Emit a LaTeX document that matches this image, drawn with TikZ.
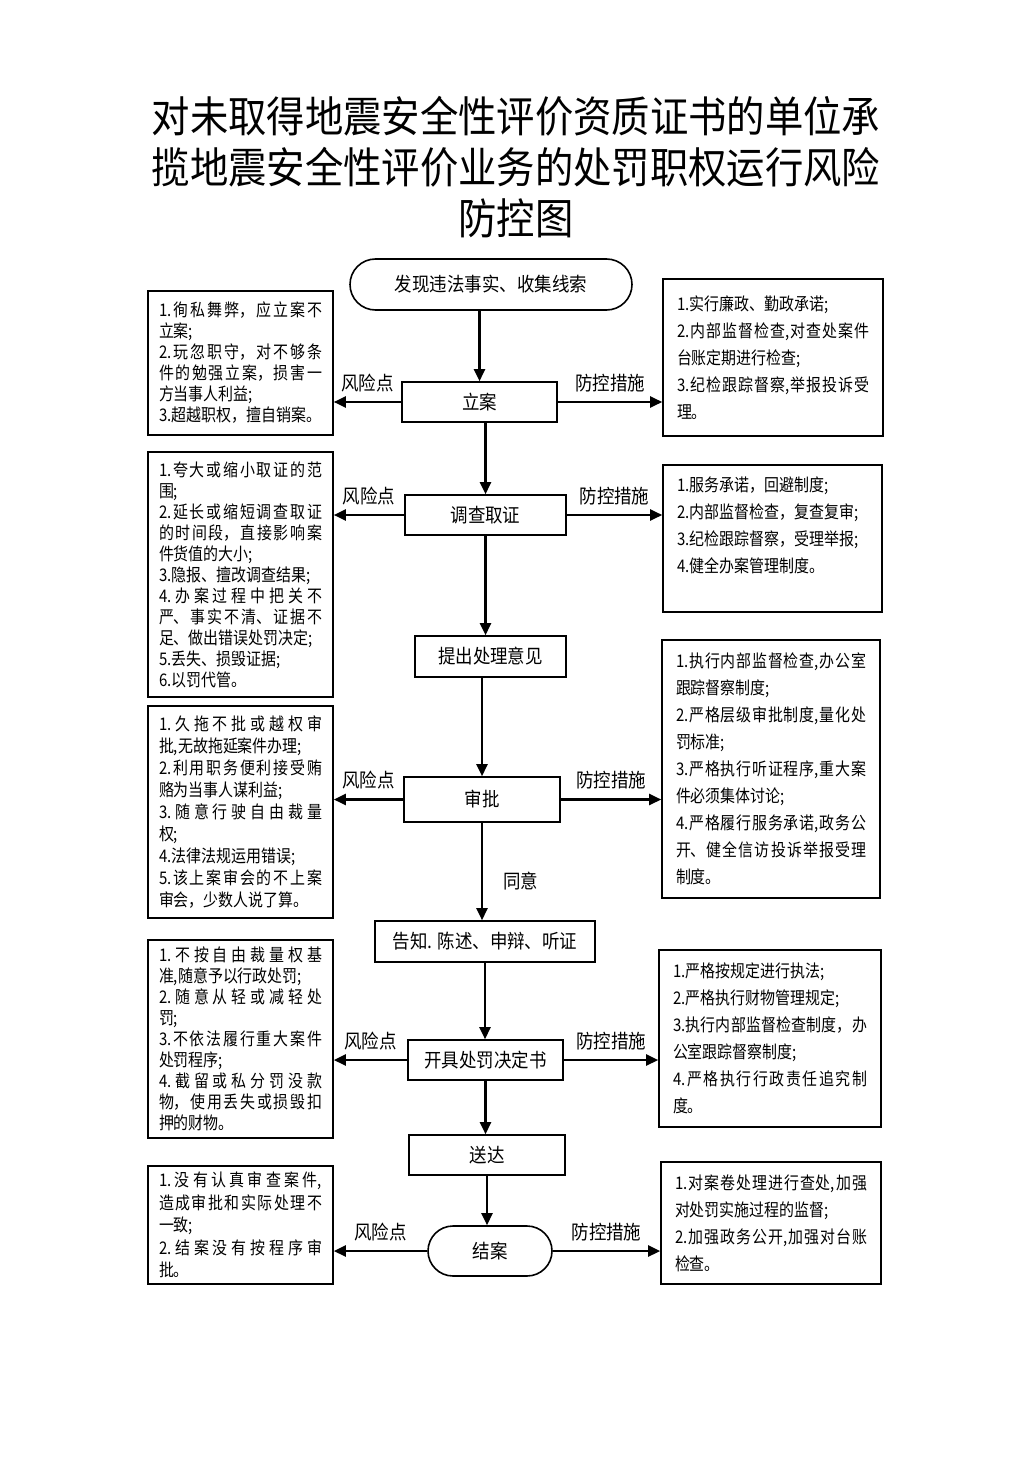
\documentclass[tikz,border=0pt]{standalone}
\usepackage{fontspec}
\newfontfamily\cjk[FakeStretch=0.9]{Noto Sans CJK SC}
\newfontfamily\cjkbox[FakeStretch=0.86]{Noto Sans CJK SC}
\XeTeXlinebreaklocale "zh"
\XeTeXlinebreakskip=0pt plus 4pt
\usetikzlibrary{arrows.meta}
\begin{document}
\begin{tikzpicture}[x=0.5pt,y=-0.5pt,
  flow/.style={draw, line width=0.8pt, font=\cjk\fontsize{9.7}{11}\selectfont, align=center, inner sep=0pt},
  lbox/.style={draw, line width=0.8pt, font=\cjkbox\fontsize{8.7}{10.5}\selectfont, align=justify, text width=81.5pt, inner xsep=5.5pt, inner ysep=0pt},
  rbox/.style={draw, line width=0.8pt, font=\cjkbox\fontsize{8.7}{13.5}\selectfont, align=justify, inner xsep=7pt, inner ysep=0pt},
  arr/.style={line width=1.2pt, -{Triangle[length=6pt,width=5.5pt]}},
  lbl/.style={font=\cjk\fontsize{9.7}{11}\selectfont, inner sep=0pt},
  ttl/.style={font=\cjk\fontsize{21.3}{25.5}\selectfont, align=center, inner sep=0pt}
]
\useasboundingbox (0,0) rectangle (1033,1460);

% title
\node[ttl] (title) at (516,167) {对未取得地震安全性评价资质证书的单位承\\揽地震安全性评价业务的处罚职权运行风险\\防控图};

% main flow
\node[flow, rounded corners=12.75pt, minimum width=141pt, minimum height=25.5pt] (start) at (491,284.5) {发现违法事实、收集线索};
\node[flow, minimum width=77.5pt, minimum height=20pt] (lian) at (479.5,402) {立案};
\node[flow, minimum width=80.5pt, minimum height=20pt] (dc) at (485.5,515) {调查取证};
\node[flow, minimum width=75.5pt, minimum height=20.5pt] (tc) at (490.5,656.5) {提出处理意见};
\node[flow, minimum width=78pt, minimum height=22.5pt] (sp) at (482,799.5) {审批};
\node[flow, minimum width=110pt, minimum height=20.5pt] (gz) at (485,941.5) {告知. 陈述、申辩、听证};
\node[flow, minimum width=77.5pt, minimum height=20pt] (kj) at (485.5,1060) {开具处罚决定书};
\node[flow, minimum width=78pt, minimum height=20pt] (sd) at (487,1155) {送达};
\node[flow, rounded corners=12.5pt, minimum width=62pt, minimum height=25pt] (ja) at (490,1251) {结案};

% left boxes (risk points)
\node[lbox, minimum height=72pt] (L1) at (240.5,363) {1.徇私舞弊，应立案不\linebreak 立案;\\2.玩忽职守，对不够条\linebreak 件的勉强立案，损害一\linebreak 方当事人利益;\\3.超越职权，擅自销案。};
\node[lbox, minimum height=122.5pt] (L2) at (240.5,574.5) {1.夸大或缩小取证的范\linebreak 围;\\2.延长或缩短调查取证\linebreak 的时间段，直接影响案\linebreak 件货值的大小;\\3.隐报、擅改调查结果;\\4.办案过程中把关不\linebreak 严、事实不清、证据不\linebreak 足、做出错误处罚决定;\\5.丢失、损毁证据;\\6.以罚代管。};
\node[lbox, minimum height=106pt, font=\cjkbox\fontsize{8.7}{11}\selectfont] (L3) at (240.5,812) {1.久拖不批或越权审\linebreak 批,无故拖延案件办理;\\2.利用职务便利接受贿\linebreak 赂为当事人谋利益;\\3.随意行驶自由裁量\linebreak 权;\\4.法律法规运用错误;\\5.该上案审会的不上案\linebreak 审会，少数人说了算。};
\node[lbox, minimum height=99pt] (L4) at (240.5,1039) {1.不按自由裁量权基\linebreak 准,随意予以行政处罚;\\2.随意从轻或减轻处\linebreak 罚;\\3.不依法履行重大案件\linebreak 处罚程序;\\4.截留或私分罚没款\linebreak 物，使用丢失或损毁扣\linebreak 押的财物。};
\node[lbox, minimum height=59pt, font=\cjkbox\fontsize{8.7}{11.2}\selectfont] (L5) at (240.5,1225) {1.没有认真审查案件,\linebreak 造成审批和实际处理不\linebreak 一致;\\2.结案没有按程序审\linebreak 批。};

% right boxes (control measures)
\node[rbox, text width=96pt, minimum height=78.5pt] (R1) at (773,357.5) {1.实行廉政、勤政承诺;\\2.内部监督检查,对查处案件\linebreak 台账定期进行检查;\\3.纪检跟踪督察,举报投诉受\linebreak 理。};
\node[rbox, text width=95.5pt, minimum height=73.5pt] (R2) at (772.5,538.5) {1.服务承诺，回避制度;\\2.内部监督检查，复查复审;\\3.纪检跟踪督察，受理举报;\\4.健全办案管理制度。\\\mbox{}};
\node[rbox, text width=95pt, minimum height=129pt] (R3) at (771,769) {1.执行内部监督检查,办公室\linebreak 跟踪督察制度;\\2.严格层级审批制度,量化处\linebreak 罚标准;\\3.严格执行听证程序,重大案\linebreak 件必须集体讨论;\\4.严格履行服务承诺,政务公\linebreak 开、健全信访投诉举报受理\linebreak 制度。};
\node[rbox, text width=97pt, minimum height=88.5pt] (R4) at (770,1038.5) {1.严格按规定进行执法;\\2.严格执行财物管理规定;\\3.执行内部监督检查制度，办\linebreak 公室跟踪督察制度;\\4.严格执行行政责任追究制\linebreak 度。};
\node[rbox, text width=96pt, minimum height=61pt] (R5) at (771,1223) {1.对案卷处理进行查处,加强\linebreak 对处罚实施过程的监督;\\2.加强政务公开,加强对台账\linebreak 检查。};

% vertical flow arrows
\draw[arr] (lian.north |- start.south) -- (lian.north);
\draw[arr] (dc.north |- lian.south) -- (dc.north);
\draw[arr] (dc.south) -- (dc.south |- tc.north);
\draw[arr] (sp.north |- tc.south) -- (sp.north);
\draw[arr] (sp.south) -- node[lbl, right=10pt, pos=0.6] {同意} (sp.south |- gz.north);
\draw[arr] (gz.south) -- (gz.south |- kj.north);
\draw[arr] (kj.south) -- (kj.south |- sd.north);
\draw[arr] (sd.south) -- (sd.south |- ja.north);

% horizontal arrows
\draw[arr] (lian.west) -- node[lbl, above=4.5pt] {风险点} (lian.west -| L1.east);
\draw[arr] (lian.east) -- node[lbl, above=4.5pt] {防控措施} (lian.east -| R1.west);
\draw[arr] (dc.west) -- node[lbl, above=4.5pt] {风险点} (dc.west -| L2.east);
\draw[arr] (dc.east) -- node[lbl, above=4.5pt] {防控措施} (dc.east -| R2.west);
\draw[arr] (sp.west) -- node[lbl, above=4.5pt] {风险点} (sp.west -| L3.east);
\draw[arr] (sp.east) -- node[lbl, above=4.5pt] {防控措施} (sp.east -| R3.west);
\draw[arr] (kj.west) -- node[lbl, above=4.5pt] {风险点} (kj.west -| L4.east);
\draw[arr] (kj.east) -- node[lbl, above=4.5pt] {防控措施} (kj.east -| R4.west);
\draw[arr] (ja.west) -- node[lbl, above=4.5pt] {风险点} (ja.west -| L5.east);
\draw[arr] (ja.east) -- node[lbl, above=4.5pt] {防控措施} (ja.east -| R5.west);
\end{tikzpicture}
\end{document}
